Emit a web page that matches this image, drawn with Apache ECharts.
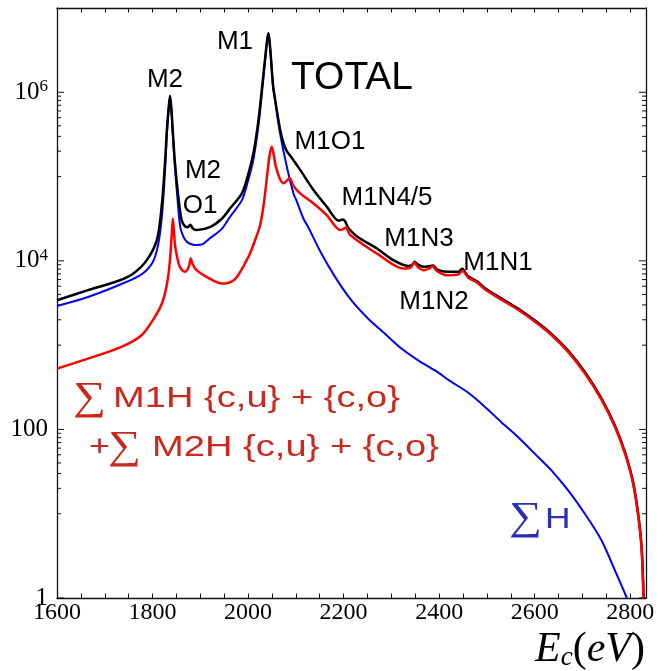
<!DOCTYPE html>
<html>
<head>
<meta charset="utf-8">
<script src="https://cdn.jsdelivr.net/npm/echarts@6/dist/echarts.min.js"></script>
<style>
html,body{margin:0;padding:0;background:#fff;}
#chart{width:668px;height:671px;}
</style>
</head>
<body>
<div id="chart"></div>
<script>
// ---- data (energy in eV, rate on log scale) ----
const totalX = [1600,1665,1732,1760,1788,1809,1819,1826,1830,1833.5,1836.6,1839.5,1842.3,1847,1854,1861,1868,1874,1879,1885,1893,1920,1945,1962,1987,2000,2012,2022,2030,2036,2040,2042.5,2045,2048,2052,2057,2067,2074,2081,2088,2109,2137,2165,2190,2198,2203,2210,2228,2270,2304,2335,2343,2349,2355,2367,2382,2387,2395,2416,2440,2448,2460,2480,2496,2530,2565,2600,2635,2670,2705,2740,2768,2789,2806,2817,2824,2828];
const totalY = [3410,4490,5890,7080,10200,17600,43700,144000,355000,631000,912000,631000,355000,144000,57500,30200,25700,25100,26900,24000,23200,25100,31600,41700,63100,105000,200000,479000,1260000,2630000,4170000,5010000,3980000,2510000,1260000,794000,363000,251000,200000,178000,120000,69200,43700,29900,30900,29500,24500,19500,14000,10200,8710,8910,9770,9120,8510,8710,8810,7940,7410,7410,8040,6610,5690,4730,3590,2720,1970,1360,861,479,232,111,53.7,23.7,9.55,3.85,1];

const mhX = [1600,1665,1735,1777,1805,1820,1830,1836,1840,1842.5,1845,1848,1857,1868,1876,1880,1884,1892,1913,1945,1970,1990,1996,2002,2015,2025,2033,2040,2045,2049.5,2053,2058,2066,2074,2081,2087,2095,2109,2137,2165,2193,2200,2205,2212,2228,2270,2325,2340,2348,2355,2367,2380,2386,2395,2416,2440,2449,2461,2480,2496,2530,2565,2600,2635,2670,2705,2740,2768,2789,2806,2817,2824,2827.5];
const mhY = [527,692,955,1310,2160,3160,5250,9550,20000,31600,21400,14100,8510,7410,8510,10700,9120,7760,6460,5370,5890,8510,10000,11500,17800,26300,47900,105000,178000,226000,191000,132000,95500,83200,89100,95500,77600,63100,47900,34700,23200,24000,24900,20900,17600,12200,8130,8320,9550,8510,7760,8130,8710,7590,6760,6920,7590,6310,5500,4570,3470,2630,1910,1320,832,462,224,107,51.6,22.7,9.12,3.66,1];

const hX = [1600,1665,1735,1777,1800,1812,1820,1826,1830,1833.5,1836.6,1839.5,1842.3,1847,1852,1858,1865,1872,1885,1893,1905,1920,1945,1962,1987,2000,2011,2022,2030,2036,2040,2042.5,2045,2048,2052,2057,2067,2081,2095,2101,2116,2126,2153.5,2182,2216,2251,2286,2321,2356,2391,2426,2461,2496,2530,2565,2600,2635,2670,2705,2740,2768,2793];
const hY = [2920,3730,5310,6920,9550,15800,35500,112000,316000,603000,891000,603000,316000,126000,56200,25100,19100,16800,15500,15400,15800,18500,24000,33100,52500,89100,158000,417000,1120000,2510000,4170000,5010000,3980000,2510000,1200000,759000,324000,132000,63100,52500,31600,25100,12200,6460,3410,2070,1370,912,661,501,366,272,185,122,81.3,51.6,32.7,18.9,10,4.82,2.12,1];

const xMin = 1600, xMax = 2833, xStep = 50, xLabelStep = 200;
const yMin = 1, yMax = 1e7;
const yMajorTicks = [1, 100, 1e4, 1e6];
const yMinorTicks = [10,20,30,40,50,60,70,80,90,
  1000,2000,3000,4000,5000,6000,7000,8000,9000,
  1e5,2e5,3e5,4e5,5e5,6e5,7e5,8e5,9e5];

function zip(xs, ys){ return xs.map((x,i)=>[x, ys[i]]); }

const chart = echarts.init(document.getElementById('chart'), null, {renderer:'canvas'});

const serif = '"Liberation Serif", "DejaVu Serif", serif';
const sans = '"Liberation Sans", Arial, sans-serif';
const redText = '#c8281e';
const blueText = '#2a2fb0';

const tickData = yMajorTicks.map(v=>[xMin, v, 1]).concat(yMinorTicks.map(v=>[xMin, v, 0]));

const axisLineStyle = {color:'#111', width:1.3};

function label(txt, x, y, size, color, align, sx, fam){
  return {type:'text', x:x, y:y, scaleX:sx||1, z:100, style:{
    text:txt, fill:color || '#000', font:size+'px '+(fam||sans),
    textAlign:align||'center', align:align||'center',
    textVerticalAlign:'middle', verticalAlign:'middle'
  }};
}

const option = {
  backgroundColor:'#fff',
  animation:false,
  grid:{left:57, right:22, top:8, bottom:73, containLabel:false, outerBoundsMode:'none'},
  xAxis:[{
    type:'value', min:xMin, max:xMax, interval:xStep, position:'bottom',
    axisLine:{show:true, onZero:false, lineStyle:axisLineStyle},
    axisTick:{show:true, inside:true, length:4.5, lineStyle:{color:'#111', width:1}},
    splitLine:{show:false},
    axisLabel:{
      show:true, margin:3, color:'#000', fontFamily:serif, fontSize:24,
      showMaxLabel:false,
      formatter:function(v){ return (Math.round(v) % xLabelStep === 0) ? String(Math.round(v)) : ''; }
    }
  },{
    type:'value', min:xMin, max:xMax, interval:xStep, position:'top',
    axisLine:{show:true, onZero:false, lineStyle:axisLineStyle},
    axisTick:{show:true, inside:true, length:4.5, lineStyle:{color:'#111', width:1}},
    splitLine:{show:false}, axisLabel:{show:false}
  }],
  yAxis:[{
    type:'log', logBase:10, min:yMin, max:yMax, position:'left', splitNumber:7,
    axisLine:{show:true, onZero:false, lineStyle:axisLineStyle},
    axisTick:{show:false},
    splitLine:{show:false},
    axisLabel:{
      show:true, margin:9, color:'#000',
      formatter:function(v){
        const e = Math.round(Math.log10(v));
        if (e % 2 !== 0) return '';
        if (e === 0) return '{b|1}';
        if (e === 2) return '{b|100}';
        return '{b|10}{s|' + e + '}';
      },
      rich:{
        b:{fontFamily:serif, fontSize:25, color:'#000'},
        s:{fontFamily:serif, fontSize:17, color:'#000', verticalAlign:'bottom', padding:[0,0,11,0]}
      }
    }
  },{
    type:'log', logBase:10, min:yMin, max:yMax, position:'right',
    axisLine:{show:true, onZero:false, lineStyle:axisLineStyle},
    axisTick:{show:false}, splitLine:{show:false}, axisLabel:{show:false}
  }],
  series:[
    {
      type:'custom', xAxisIndex:0, yAxisIndex:0, silent:true, z:1,
      data:tickData, encode:{x:0, y:1},
      renderItem:function(params, api){
        const v = api.value(1);
        const major = api.value(2) === 1;
        const len = major ? 7 : 4;
        const p1 = api.coord([xMin, v]);
        const p2 = api.coord([xMax, v]);
        const st = {stroke:'#111', lineWidth:1};
        return {type:'group', children:[
          {type:'line', shape:{x1:p1[0], y1:p1[1], x2:p1[0]+len, y2:p1[1]}, style:st},
          {type:'line', shape:{x1:p2[0], y1:p2[1], x2:p2[0]-len, y2:p2[1]}, style:st}
        ]};
      }
    },
    {
      name:'ΣH', type:'line', data:zip(hX, hY), showSymbol:false, smooth:0.3,
      lineStyle:{color:'#0000ff', width:2}, z:2
    },
    {
      name:'TOTAL', type:'line', data:zip(totalX, totalY), showSymbol:false, smooth:0.3,
      lineStyle:{color:'#000000', width:2.5}, z:3
    },
    {
      name:'M1H+M2H', type:'line', data:zip(mhX, mhY), showSymbol:false, smooth:0.3,
      lineStyle:{color:'#ff0000', width:2.5}, z:4
    }
  ],
  graphic:[
    label('M2', 165, 80, 26),
    label('M1', 235, 42, 26),
    label('TOTAL', 352, 78, 39),
    label('M2', 203, 171, 26),
    label('O1', 200, 206, 26),
    label('M1O1', 330, 142, 26),
    label('M1N4/5', 387, 198, 26),
    label('M1N3', 419, 239, 26),
    label('M1N1', 498, 263, 26),
    label('M1N2', 434, 302, 26),
    label('∑', 73, 398, 40, redText, 'left', 1.15, serif),
    label('M1H {c,u} + {c,o}', 113, 399, 30, redText, 'left', 1.27),
    label('+', 89, 448, 30, redText, 'left', 1.2),
    label('∑', 108, 447, 40, redText, 'left', 1.15, serif),
    label('M2H {c,u} + {c,o}', 152, 448, 30, redText, 'left', 1.27),
    label('∑', 509, 518, 40, blueText, 'left', 1.15, serif),
    label('H', 545, 520, 29, blueText, 'left', 1.22),
    {type:'text', x:645, y:650, style:{
      text:'{i|E}{sub|c}{n|(}{i|eV}{n|)}', textAlign:'right', textVerticalAlign:'middle', align:'right', verticalAlign:'middle',
      rich:{
        i:{fontFamily:serif, fontStyle:'italic', fontSize:42, fill:'#000', color:'#000'},
        sub:{fontFamily:serif, fontStyle:'italic', fontSize:27, fill:'#000', color:'#000', verticalAlign:'bottom'},
        n:{fontFamily:serif, fontSize:42, fill:'#000', color:'#000'}
      }
    }}
  ]
};
chart.setOption(option);
</script>
</body>
</html>
